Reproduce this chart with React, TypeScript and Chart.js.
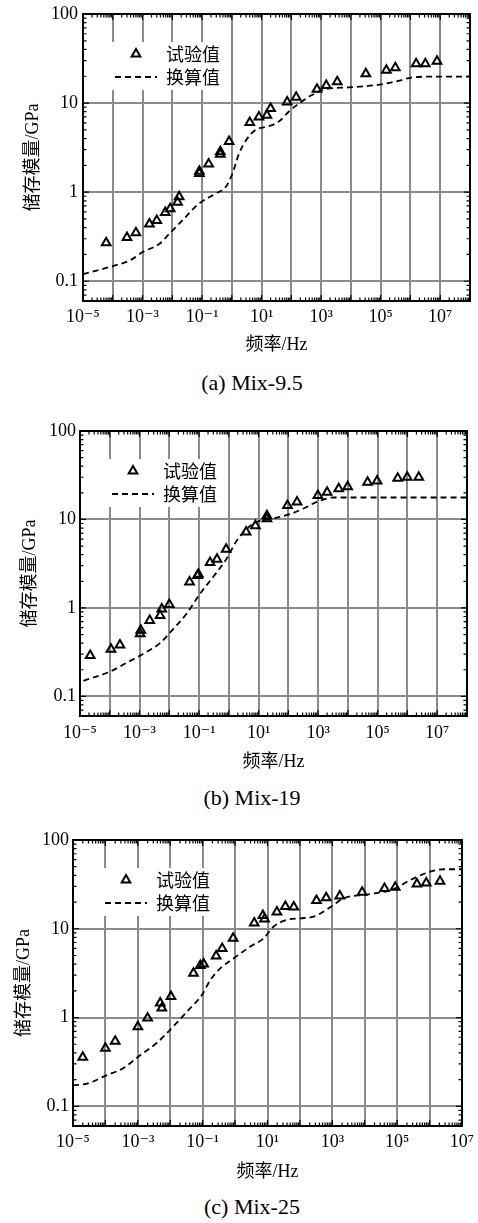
import React, { useEffect, useRef } from 'react';
import { Chart, registerables } from 'chart.js';

Chart.register(...registerables);

// ---------- text ----------
const LEGEND_LABELS = ['试验值', '换算值'];
const Y_TITLE = '储存模量/GPa';
const X_TITLE = '频率/Hz';
const CAPTIONS = ['(a) Mix-9.5', '(b) Mix-19', '(c) Mix-25'];
const Y_TICKS = [0.1, 1, 10, 100];
const Y_TICK_LABELS = ['0.1', '1', '10', '100'];

// ---------- (a) Mix-9.5 ----------
const freqA = [6e-5, 3e-4, 6e-4, 1.7e-3, 3e-3, 5.8e-3, 8.5e-3, 1.5e-2, 1.7e-2, 8.1e-2, 8.1e-2, 0.166, 0.41, 0.41, 0.81, 4.0, 8.1, 15, 20, 72, 145, 725, 1480, 3470, 31600, 1.55e5, 3.1e5, 1.55e6, 3.16e6, 7.8e6];
const testA = [0.27, 0.31, 0.35, 0.44, 0.48, 0.59, 0.65, 0.77, 0.89, 1.62, 1.72, 2.07, 2.67, 2.85, 3.71, 6.07, 7.0, 7.3, 8.7, 10.3, 11.6, 14.3, 15.8, 17.4, 21.4, 23.3, 25, 27.7, 27.7, 29.4];
const curveFreqA = [1e-5, 8.1e-5, 3.8e-4, 1.05e-3, 3.8e-3, 8.1e-3, 1.74e-2, 8.1e-2, 0.3, 0.63, 1.05, 1.74, 2.95, 6.3, 17.4, 38, 81, 174, 490, 1350, 8100, 1.05e5, 3.8e5, 1.05e6, 4.9e6, 1e8];
const curveA = [0.12, 0.145, 0.172, 0.214, 0.265, 0.344, 0.445, 0.75, 0.97, 1.15, 1.62, 2.7, 3.8, 5.0, 5.5, 6.2, 8.0, 9.8, 12.3, 14.3, 15.0, 16.2, 17.7, 19.3, 19.8, 19.8];

// ---------- (b) Mix-19 ----------
const freqB = [2.2e-5, 1.1e-4, 2.2e-4, 1.05e-3, 1.1e-3, 2.2e-3, 4.9e-3, 5.6e-3, 1e-2, 4.8e-2, 8.9e-2, 9.5e-2, 0.234, 0.4, 0.81, 3.8, 7.8, 19, 19, 93, 195, 980, 2000, 4900, 9800, 45700, 95500, 4.7e5, 9.8e5, 2.4e6];
const testB = [0.29, 0.34, 0.38, 0.51, 0.56, 0.72, 0.82, 0.97, 1.09, 1.96, 2.32, 2.4, 3.27, 3.54, 4.59, 7.2, 8.5, 11.0, 10.2, 14.4, 15.8, 18.6, 20.3, 22.2, 23.4, 26.4, 27.3, 29.2, 30.0, 30.0];
const curveFreqB = [1.3e-5, 1.0e-4, 3.7e-4, 1.05e-3, 4.9e-3, 1.07e-2, 3.9e-2, 0.11, 0.3, 0.85, 1.86, 4.1, 8.7, 32, 115, 324, 910, 3300, 1e4, 1e8];
const curveB = [0.15, 0.19, 0.24, 0.29, 0.40, 0.53, 0.87, 1.46, 2.25, 3.63, 5.8, 7.9, 9.4, 10.3, 11.5, 13.3, 15.8, 17.7, 17.7, 17.7];

// ---------- (c) Mix-25 ----------
const freqC = [2.0e-5, 1.0e-4, 2.0e-4, 1.0e-3, 2.0e-3, 4.9e-3, 5.5e-3, 1.05e-2, 5.2e-2, 8.5e-2, 0.107, 0.26, 0.4, 0.87, 3.9, 7.2, 8.1, 19.5, 35.5, 64.6, 324, 646, 1700, 8300, 40700, 87000, 4.07e5, 7.9e5, 2.1e6];
const testC = [0.356, 0.45, 0.54, 0.79, 0.99, 1.46, 1.28, 1.73, 3.16, 3.86, 4.0, 4.95, 6.0, 7.8, 11.6, 14.1, 12.9, 15.4, 17.8, 17.6, 20.8, 22.3, 23.4, 25.8, 28.4, 29.4, 32, 32.8, 34.3];
const curveFreqC = [1e-5, 2.7e-5, 1.07e-4, 3.6e-4, 1.07e-3, 3.9e-3, 1e-2, 3.3e-2, 9.5e-2, 0.174, 0.355, 0.91, 2.95, 7.6, 15.5, 40, 102, 263, 537, 1100, 2240, 11700, 77600, 2.57e5, 1.05e6, 2.7e6, 1e7];
const curveC = [0.172, 0.18, 0.223, 0.27, 0.366, 0.52, 0.73, 1.17, 1.8, 2.66, 3.6, 4.66, 6.3, 7.8, 10.6, 12.6, 13.1, 13.7, 15.6, 18.6, 22.1, 24.3, 27.9, 35.5, 44, 46.8, 46.8];

// x axis exponent ranges per panel
const X_EXP_A = [-5, 8];
const X_EXP_B = [-5, 8];
const X_EXP_C = [-5, 7];
const Y_MIN = 0.06;
const Y_MAX = 100;

// ---------- layout (positions / styles only) ----------
const PANELS = [
  { freq: freqA, test: testA, cf: curveFreqA, cv: curveA, xExp: X_EXP_A, caption: CAPTIONS[0],
    top: 0, h: 360, padTop: 14, yWidth: 83, padRight: 8, xHeight: 59, xTitlePad: 4.2, yTitlePad: 22.2, yTickPad: 5, xTickPad: 5, capY: 383 },
  { freq: freqB, test: testB, cf: curveFreqB, cv: curveB, xExp: X_EXP_B, caption: CAPTIONS[1],
    top: 400, h: 380, padTop: 31, yWidth: 80, padRight: 11, xHeight: 64, xTitlePad: 7.2, yTitlePad: 19.7, yTickPad: 4, xTickPad: 6, capY: 798 },
  { freq: freqC, test: testC, cf: curveFreqC, cv: curveC, xExp: X_EXP_C, caption: CAPTIONS[2],
    top: 810, h: 380, padTop: 30, yWidth: 73, padRight: 16, xHeight: 64, xTitlePad: 7.2, yTitlePad: 13.2, yTickPad: 4, xTickPad: 5, capY: 1207 },
];

const SERIF = "'Liberation Serif', 'Noto Sans CJK SC', 'DejaVu Serif', serif";
const CJK = "'Noto Sans CJK SC', 'Liberation Serif', sans-serif";
const SUP: Record<string, string> = { '-': '⁻', '0': '⁰', '1': '¹', '2': '²', '3': '³', '4': '⁴', '5': '⁵', '6': '⁶', '7': '⁷', '8': '⁸', '9': '⁹' };
const sup = (s: string) => s.split('').map((c) => SUP[c] || c).join('');

const decorPlugin = {
  id: 'decor',
  afterDraw(chart: any) {
    const { ctx, chartArea } = chart;
    const { left, right, top, bottom } = chartArea;
    const xs = chart.scales.x;
    const ys = chart.scales.y;
    ctx.save();
    // inward ticks on all four sides
    ctx.strokeStyle = '#000';
    ctx.lineWidth = 1.2;
    const drawTicks = (scale: any, horizontal: boolean) => {
      const lo = Math.floor(Math.log10(scale.min)) - 1;
      const hi = Math.ceil(Math.log10(scale.max)) + 1;
      for (let e = lo; e <= hi; e++) {
        for (let m = 1; m < 10; m++) {
          const v = m * Math.pow(10, e);
          if (v < scale.min * 0.999 || v > scale.max * 1.001) continue;
          const p = scale.getPixelForValue(v);
          const len = m === 1 ? 6 : 3.5;
          ctx.beginPath();
          if (horizontal) {
            ctx.moveTo(p, bottom); ctx.lineTo(p, bottom - len);
            ctx.moveTo(p, top); ctx.lineTo(p, top + len);
          } else {
            ctx.moveTo(left, p); ctx.lineTo(left + len, p);
            ctx.moveTo(right, p); ctx.lineTo(right - len, p);
          }
          ctx.stroke();
        }
      }
    };
    drawTicks(xs, true);
    drawTicks(ys, false);

    // legend
    const bx = left + 29, by = top + 28;
    ctx.fillStyle = '#fff';
    ctx.fillRect(bx, by, 113, 48);
    const ds = chart.data.datasets;
    const r1 = top + 40, r2 = top + 63;
    // triangle marker
    const mx = left + 53, rad = 5;
    ctx.strokeStyle = '#000';
    ctx.lineWidth = 2;
    ctx.beginPath();
    for (let k = 0; k < 3; k++) {
      const a = (k * 2 * Math.PI) / 3;
      const px = mx + Math.sin(a) * rad, py = r1 - Math.cos(a) * rad;
      if (k === 0) ctx.moveTo(px, py); else ctx.lineTo(px, py);
    }
    ctx.closePath();
    ctx.stroke();
    // dashed sample
    ctx.lineWidth = 1.8;
    ctx.setLineDash([6, 4]);
    ctx.beginPath();
    ctx.moveTo(left + 32, r2);
    ctx.lineTo(left + 74, r2);
    ctx.stroke();
    ctx.setLineDash([]);
    ctx.fillStyle = '#000';
    ctx.font = `18px ${CJK}`;
    ctx.textBaseline = 'middle';
    ctx.textAlign = 'left';
    ctx.fillText(ds[0].label, left + 83, r1);
    ctx.fillText(ds[1].label, left + 83, r2);

    // frame
    ctx.lineWidth = 2;
    ctx.strokeStyle = '#000';
    ctx.strokeRect(left, top, right - left, bottom - top);
    ctx.restore();
  },
};

function Panel({ cfg }: { cfg: any }) {
  const ref = useRef<HTMLCanvasElement | null>(null);
  useEffect(() => {
    if (!ref.current) return;
    const xTicks: number[] = [];
    for (let e = cfg.xExp[0]; e <= cfg.xExp[1]; e++) xTicks.push(Math.pow(10, e));
    const chart = new Chart(ref.current, {
      type: 'scatter',
      data: {
        datasets: [
          {
            label: LEGEND_LABELS[0],
            data: cfg.freq.map((f: number, i: number) => ({ x: f, y: cfg.test[i] })),
            pointStyle: 'triangle',
            pointRadius: 5,
            pointBorderWidth: 2,
            borderColor: '#000',
            backgroundColor: 'rgba(0,0,0,0)',
            showLine: false,
          },
          {
            label: LEGEND_LABELS[1],
            data: cfg.cf.map((f: number, i: number) => ({ x: f, y: cfg.cv[i] })),
            showLine: true,
            pointRadius: 0,
            borderColor: '#000',
            borderWidth: 1.8,
            borderDash: [6, 4],
            cubicInterpolationMode: 'monotone',
            fill: false,
          },
        ],
      } as any,
      options: {
        responsive: false,
        animation: false,
        devicePixelRatio: 1,
        layout: { padding: { top: cfg.padTop, left: 0, right: cfg.padRight, bottom: 0 } },
        plugins: { legend: { display: false }, tooltip: { enabled: false } },
        scales: {
          x: {
            type: 'logarithmic',
            min: Math.pow(10, cfg.xExp[0]),
            max: Math.pow(10, cfg.xExp[1]),
            afterBuildTicks: (s: any) => { s.ticks = xTicks.map((v) => ({ value: v })); },
            afterFit: (s: any) => {
              s.height = cfg.xHeight;
              s.paddingLeft = 0; s.paddingRight = 0; s.paddingTop = 0; s.paddingBottom = 0;
            },
            ticks: {
              autoSkip: false,
              maxRotation: 0,
              minRotation: 0,
              padding: cfg.xTickPad,
              color: '#000',
              font: { family: SERIF, size: 18 },
              callback: (v: any) => {
                const e = Math.round(Math.log10(Number(v)));
                return Math.abs(e) % 2 === 1 ? '10' + sup(String(e)) : '';
              },
            },
            grid: { color: '#8a8a8a', lineWidth: 2, drawTicks: false },
            border: { display: false },
            title: {
              display: true,
              text: X_TITLE,
              color: '#000',
              font: { family: SERIF, size: 18 },
              padding: { top: 0, bottom: cfg.xTitlePad },
            },
          },
          y: {
            type: 'logarithmic',
            min: Y_MIN,
            max: Y_MAX,
            afterBuildTicks: (s: any) => { s.ticks = Y_TICKS.map((v) => ({ value: v })); },
            afterFit: (s: any) => {
              s.width = cfg.yWidth;
              s.paddingLeft = 0; s.paddingRight = 0; s.paddingTop = 0; s.paddingBottom = 0;
            },
            ticks: {
              autoSkip: false,
              padding: cfg.yTickPad,
              color: '#000',
              font: { family: SERIF, size: 18 },
              callback: (v: any) => {
                const i = Y_TICKS.findIndex((t) => Math.abs(t - Number(v)) < t * 1e-6);
                return i >= 0 ? Y_TICK_LABELS[i] : '';
              },
            },
            grid: { color: '#8a8a8a', lineWidth: 2, drawTicks: false },
            border: { display: false },
            title: {
              display: true,
              text: Y_TITLE,
              color: '#000',
              font: { family: SERIF, size: 18 },
              padding: { top: cfg.yTitlePad, bottom: 0 },
            },
          },
        },
      } as any,
      plugins: [decorPlugin],
    });
    return () => chart.destroy();
  }, []);
  return (
    <canvas
      ref={ref}
      width={478}
      height={cfg.h}
      style={{ position: 'absolute', left: 0, top: cfg.top, width: 478, height: cfg.h }}
    />
  );
}

export default function App() {
  return (
    <div style={{ position: 'absolute', left: 0, top: 0, width: 478, height: 1223, background: '#fff', overflow: 'hidden' }}>
      {PANELS.map((p, i) => (
        <React.Fragment key={i}>
          <Panel cfg={p} />
          <div
            style={{
              position: 'absolute',
              left: 52,
              width: 400,
              top: p.capY - 13,
              height: 26,
              lineHeight: '26px',
              textAlign: 'center',
              fontFamily: SERIF,
              fontSize: 22,
              color: '#000',
            }}
          >
            {p.caption}
          </div>
        </React.Fragment>
      ))}
    </div>
  );
}
